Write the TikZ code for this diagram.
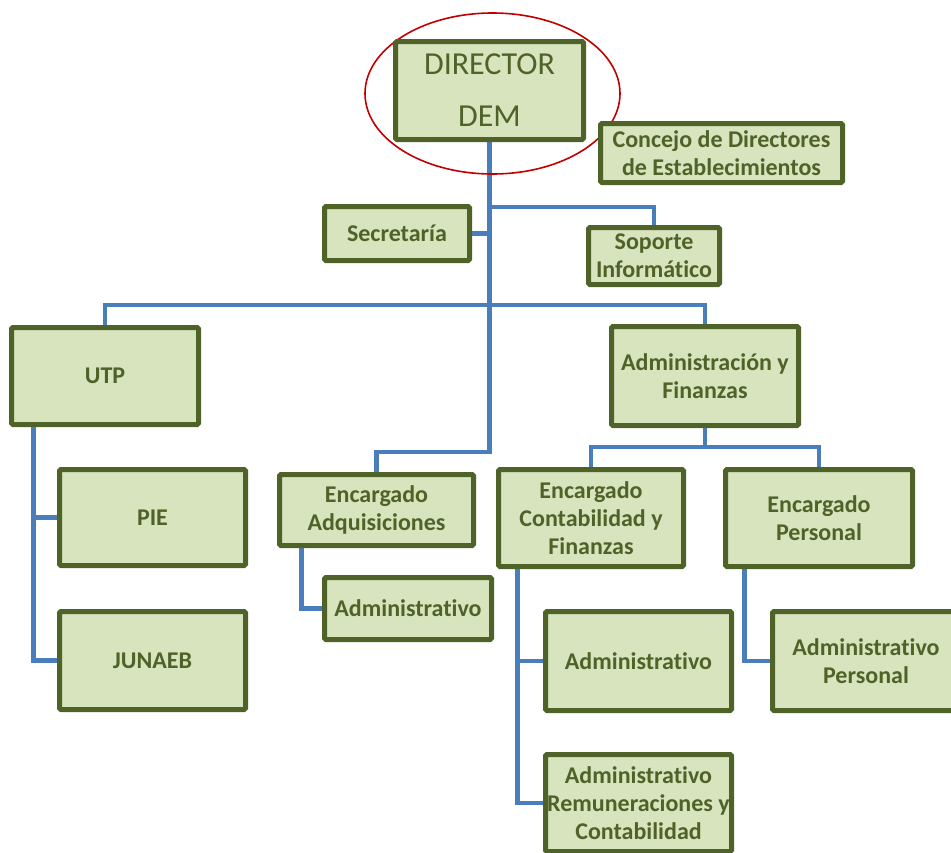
\documentclass[tikz,border=0pt]{standalone}
\usepackage{fontspec}
\setmainfont{Carlito}[Ligatures={NoCommon,NoContextual}]
\usetikzlibrary{backgrounds}
\definecolor{boxfill}{HTML}{D7E4BD}
\definecolor{bord}{HTML}{4F6228}
\definecolor{lineblue}{HTML}{4A7EBB}
\definecolor{ellred}{HTML}{C00000}
\begin{document}
\begin{tikzpicture}[x=1pt,y=-1pt,
  box/.style={draw=bord, fill=boxfill, line width=5pt, rounded corners=1.5pt,
    text=bord, font=\bfseries\fontsize{24}{28}\selectfont, align=center,
    inner sep=0pt, outer sep=0pt},
  conn/.style={draw=lineblue, line width=4.5pt},
  ring/.style={draw=ellred, line width=1.6pt}]
\path[use as bounding box] (0,0) rectangle (951,852);
\clip (0,0) rectangle (951,852);

% boxes (outer sizes minus the border width)
\node[box, minimum width=188pt, minimum height=98pt,
      font=\fontsize{32}{52}\selectfont] (dir) at (489.5,90.5) {DIRECTOR\\DEM};
\node[box, minimum width=242pt, minimum height=59pt] (con) at (721.5,153) {Concejo de Directores\\de Establecimientos};
\node[box, minimum width=145pt, minimum height=54pt] (sec) at (397,233.5) {Secretaría};
\node[box, minimum width=131pt, minimum height=57pt] (sop) at (654,256) {Soporte\\Informático};
\node[box, minimum width=187pt, minimum height=97pt] (utp) at (105,376) {UTP};
\node[box, minimum width=187pt, minimum height=99pt] (adf) at (705,376) {Administración y\\Finanzas};
\node[box, minimum width=186pt, minimum height=96pt] (pie) at (152.5,517.5) {PIE};
\node[box, minimum width=186pt, minimum height=98pt] (jun) at (152.5,660.5) {JUNAEB};
\node[box, minimum width=194pt, minimum height=71pt] (adq) at (376.5,510) {Encargado\\Adquisiciones};
\node[box, minimum width=167pt, minimum height=62pt] (adm1) at (408,608.5) {Administrativo};
\node[box, minimum width=185pt, minimum height=97pt] (ecf) at (591,518) {Encargado\\Contabilidad y\\Finanzas};
\node[box, minimum width=187pt, minimum height=97pt] (ep) at (819,518) {Encargado\\Personal};
\node[box, minimum width=186pt, minimum height=99pt] (adm2) at (638.5,661) {Administrativo};
\node[box, minimum width=186pt, minimum height=97pt] (arc) at (638.5,803) {Administrativo\\Remuneraciones y\\Contabilidad};
\node[box, minimum width=187pt, minimum height=99pt] (ap) at (866,661) {Administrativo\\Personal};

\coordinate (j1) at (490,452);
\coordinate (h2) at (400,305);
\coordinate (h3) at (700,447);
\coordinate (h1) at (560,207);

\begin{scope}[on background layer]
  \draw[conn] (dir.south) -- (dir.south |- j1) -| (adq.north);
  \draw[conn] (sec.east) -- (sec.east -| dir.south);
  \draw[conn] (dir.south |- h1) -| (sop.north);
  \draw[conn] (utp.north) |- (h2) -| (adf.north);
  \draw[conn] ([xshift=22pt]utp.south west) |- (pie.west);
  \draw[conn] ([xshift=22pt]utp.south west) |- (jun.west);
  \draw[conn] ([xshift=22pt]adq.south west) |- (adm1.west);
  \draw[conn] (adf.south) -- (adf.south |- h3);
  \draw[conn] (ecf.north) |- (h3) -| (ep.north);
  \draw[conn] ([xshift=19pt]ecf.south west) |- (adm2.west);
  \draw[conn] ([xshift=19pt]ecf.south west) |- (arc.west);
  \draw[conn] ([xshift=19pt]ep.south west) |- (ap.west);
  \draw[ring] (492.5,93.5) ellipse [x radius=127.5, y radius=80.5];
\end{scope}
\end{tikzpicture}
\end{document}
